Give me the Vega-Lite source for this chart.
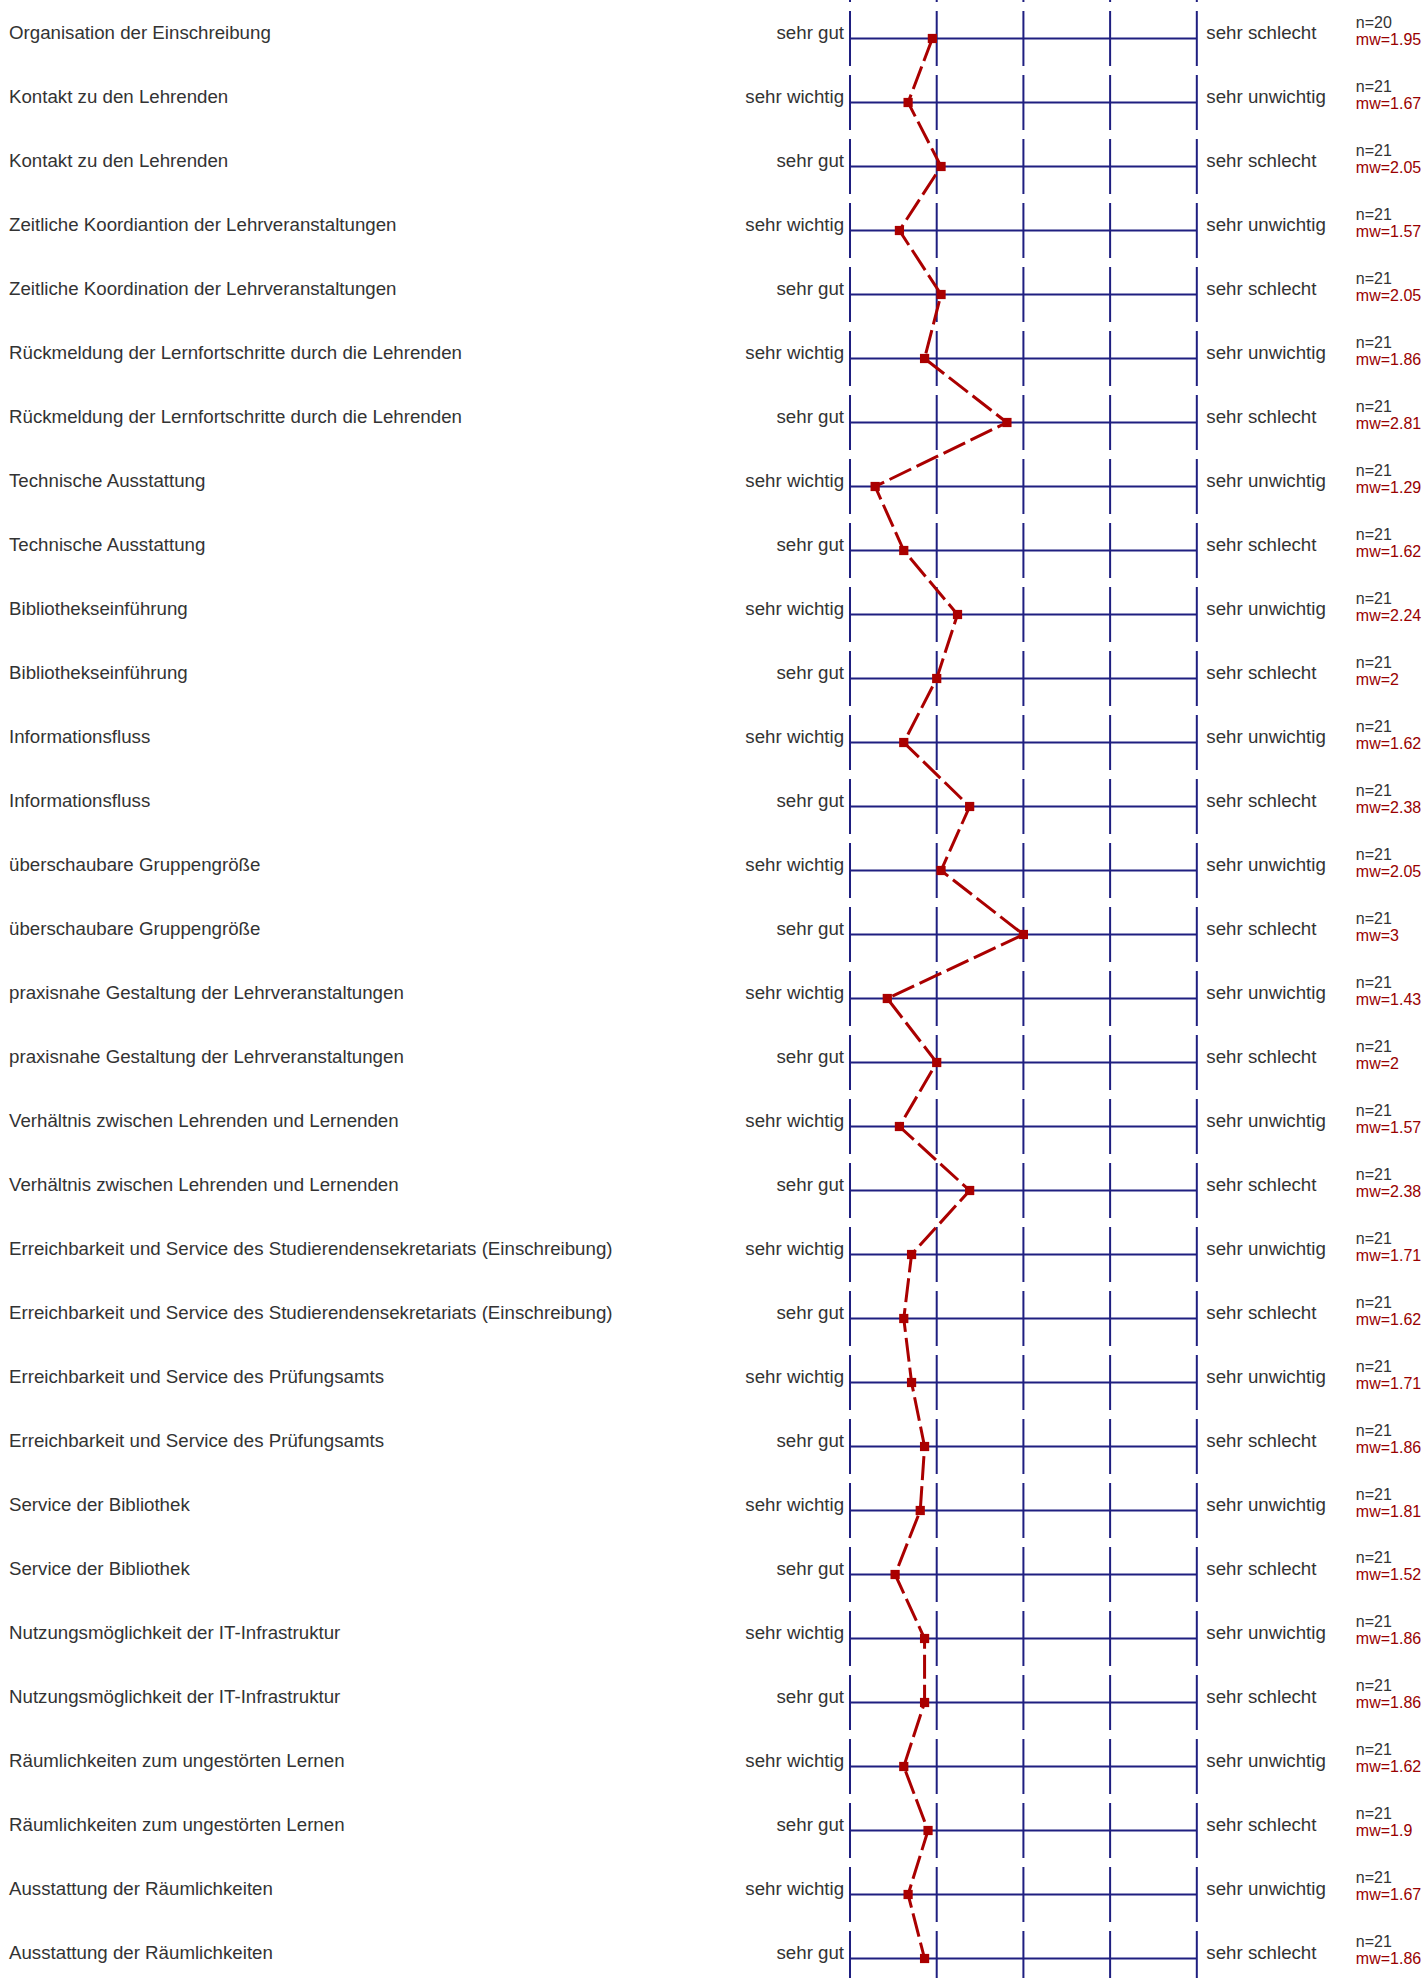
{
  "$schema": "https://vega.github.io/schema/vega-lite/v6.json",
  "width": 1427,
  "height": 1978,
  "autosize": "none",
  "padding": 0,
  "background": "white",
  "config": {"view": {"stroke": null}, "text": {"font": "Liberation Sans"}},
  "datasets": {
    "rows": [
      {"i": 0, "label": "Organisation der Einschreibung", "left": "sehr gut", "right": "sehr schlecht", "n": "n=20", "mwText": "mw=1.95", "mw": 1.95},
      {"i": 1, "label": "Kontakt zu den Lehrenden", "left": "sehr wichtig", "right": "sehr unwichtig", "n": "n=21", "mwText": "mw=1.67", "mw": 1.67},
      {"i": 2, "label": "Kontakt zu den Lehrenden", "left": "sehr gut", "right": "sehr schlecht", "n": "n=21", "mwText": "mw=2.05", "mw": 2.05},
      {"i": 3, "label": "Zeitliche Koordiantion der Lehrveranstaltungen", "left": "sehr wichtig", "right": "sehr unwichtig", "n": "n=21", "mwText": "mw=1.57", "mw": 1.57},
      {"i": 4, "label": "Zeitliche Koordination der Lehrveranstaltungen", "left": "sehr gut", "right": "sehr schlecht", "n": "n=21", "mwText": "mw=2.05", "mw": 2.05},
      {"i": 5, "label": "Rückmeldung der Lernfortschritte durch die Lehrenden", "left": "sehr wichtig", "right": "sehr unwichtig", "n": "n=21", "mwText": "mw=1.86", "mw": 1.86},
      {"i": 6, "label": "Rückmeldung der Lernfortschritte durch die Lehrenden", "left": "sehr gut", "right": "sehr schlecht", "n": "n=21", "mwText": "mw=2.81", "mw": 2.81},
      {"i": 7, "label": "Technische Ausstattung", "left": "sehr wichtig", "right": "sehr unwichtig", "n": "n=21", "mwText": "mw=1.29", "mw": 1.29},
      {"i": 8, "label": "Technische Ausstattung", "left": "sehr gut", "right": "sehr schlecht", "n": "n=21", "mwText": "mw=1.62", "mw": 1.62},
      {"i": 9, "label": "Bibliothekseinführung", "left": "sehr wichtig", "right": "sehr unwichtig", "n": "n=21", "mwText": "mw=2.24", "mw": 2.24},
      {"i": 10, "label": "Bibliothekseinführung", "left": "sehr gut", "right": "sehr schlecht", "n": "n=21", "mwText": "mw=2", "mw": 2},
      {"i": 11, "label": "Informationsfluss", "left": "sehr wichtig", "right": "sehr unwichtig", "n": "n=21", "mwText": "mw=1.62", "mw": 1.62},
      {"i": 12, "label": "Informationsfluss", "left": "sehr gut", "right": "sehr schlecht", "n": "n=21", "mwText": "mw=2.38", "mw": 2.38},
      {"i": 13, "label": "überschaubare Gruppengröße", "left": "sehr wichtig", "right": "sehr unwichtig", "n": "n=21", "mwText": "mw=2.05", "mw": 2.05},
      {"i": 14, "label": "überschaubare Gruppengröße", "left": "sehr gut", "right": "sehr schlecht", "n": "n=21", "mwText": "mw=3", "mw": 3},
      {"i": 15, "label": "praxisnahe Gestaltung der Lehrveranstaltungen", "left": "sehr wichtig", "right": "sehr unwichtig", "n": "n=21", "mwText": "mw=1.43", "mw": 1.43},
      {"i": 16, "label": "praxisnahe Gestaltung der Lehrveranstaltungen", "left": "sehr gut", "right": "sehr schlecht", "n": "n=21", "mwText": "mw=2", "mw": 2},
      {"i": 17, "label": "Verhältnis zwischen Lehrenden und Lernenden", "left": "sehr wichtig", "right": "sehr unwichtig", "n": "n=21", "mwText": "mw=1.57", "mw": 1.57},
      {"i": 18, "label": "Verhältnis zwischen Lehrenden und Lernenden", "left": "sehr gut", "right": "sehr schlecht", "n": "n=21", "mwText": "mw=2.38", "mw": 2.38},
      {"i": 19, "label": "Erreichbarkeit und Service des Studierendensekretariats (Einschreibung)", "left": "sehr wichtig", "right": "sehr unwichtig", "n": "n=21", "mwText": "mw=1.71", "mw": 1.71},
      {"i": 20, "label": "Erreichbarkeit und Service des Studierendensekretariats (Einschreibung)", "left": "sehr gut", "right": "sehr schlecht", "n": "n=21", "mwText": "mw=1.62", "mw": 1.62},
      {"i": 21, "label": "Erreichbarkeit und Service des Prüfungsamts", "left": "sehr wichtig", "right": "sehr unwichtig", "n": "n=21", "mwText": "mw=1.71", "mw": 1.71},
      {"i": 22, "label": "Erreichbarkeit und Service des Prüfungsamts", "left": "sehr gut", "right": "sehr schlecht", "n": "n=21", "mwText": "mw=1.86", "mw": 1.86},
      {"i": 23, "label": "Service der Bibliothek", "left": "sehr wichtig", "right": "sehr unwichtig", "n": "n=21", "mwText": "mw=1.81", "mw": 1.81},
      {"i": 24, "label": "Service der Bibliothek", "left": "sehr gut", "right": "sehr schlecht", "n": "n=21", "mwText": "mw=1.52", "mw": 1.52},
      {"i": 25, "label": "Nutzungsmöglichkeit der IT-Infrastruktur", "left": "sehr wichtig", "right": "sehr unwichtig", "n": "n=21", "mwText": "mw=1.86", "mw": 1.86},
      {"i": 26, "label": "Nutzungsmöglichkeit der IT-Infrastruktur", "left": "sehr gut", "right": "sehr schlecht", "n": "n=21", "mwText": "mw=1.86", "mw": 1.86},
      {"i": 27, "label": "Räumlichkeiten zum ungestörten Lernen", "left": "sehr wichtig", "right": "sehr unwichtig", "n": "n=21", "mwText": "mw=1.62", "mw": 1.62},
      {"i": 28, "label": "Räumlichkeiten zum ungestörten Lernen", "left": "sehr gut", "right": "sehr schlecht", "n": "n=21", "mwText": "mw=1.9", "mw": 1.9},
      {"i": 29, "label": "Ausstattung der Räumlichkeiten", "left": "sehr wichtig", "right": "sehr unwichtig", "n": "n=21", "mwText": "mw=1.67", "mw": 1.67},
      {"i": 30, "label": "Ausstattung der Räumlichkeiten", "left": "sehr gut", "right": "sehr schlecht", "n": "n=21", "mwText": "mw=1.86", "mw": 1.86}
    ],
    "ticks": [{"t": 1}, {"t": 2}, {"t": 3}, {"t": 4}, {"t": 5}]
  },
  "layer": [
    {
      "data": {"name": "ticks"},
      "mark": {"type": "rule", "color": "#1f1f80", "strokeWidth": 2, "strokeDash": [55, 9], "strokeDashOffset": 53},
      "encoding": {
        "x": {"field": "t", "type": "quantitative", "scale": {"domain": [-8.804, 7.655], "nice": false, "zero": false}, "axis": null}
      }
    },
    {
      "data": {"name": "rows"},
      "mark": {"type": "rule", "color": "#1f1f80", "strokeWidth": 2},
      "encoding": {
        "x": {"datum": 1, "type": "quantitative"},
        "x2": {"datum": 5},
        "y": {"field": "i", "type": "quantitative", "scale": {"domain": [-0.6016, 30.3047], "reverse": true, "nice": false, "zero": false}, "axis": null}
      }
    },
    {
      "data": {"name": "rows"},
      "mark": {"type": "line", "color": "#aa0000", "strokeWidth": 3, "strokeDash": [24, 6]},
      "encoding": {
        "x": {"field": "mw", "type": "quantitative"},
        "y": {"field": "i", "type": "quantitative"},
        "order": {"field": "i", "type": "quantitative"}
      }
    },
    {
      "data": {"name": "rows"},
      "mark": {"type": "point", "shape": "square", "filled": true, "size": 85, "color": "#aa0000", "opacity": 1},
      "encoding": {
        "x": {"field": "mw", "type": "quantitative"},
        "y": {"field": "i", "type": "quantitative"}
      }
    },
    {
      "data": {"name": "rows"},
      "mark": {"type": "text", "align": "left", "baseline": "alphabetic", "fontSize": 18.7, "color": "#333333", "dy": 0.5},
      "encoding": {
        "x": {"datum": -8.7, "type": "quantitative"},
        "y": {"field": "i", "type": "quantitative"},
        "text": {"field": "label"}
      }
    },
    {
      "data": {"name": "rows"},
      "mark": {"type": "text", "align": "right", "baseline": "alphabetic", "fontSize": 18.7, "color": "#333333", "dy": 0.5},
      "encoding": {
        "x": {"datum": 0.931, "type": "quantitative"},
        "y": {"field": "i", "type": "quantitative"},
        "text": {"field": "left"}
      }
    },
    {
      "data": {"name": "rows"},
      "mark": {"type": "text", "align": "left", "baseline": "alphabetic", "fontSize": 18.7, "color": "#333333", "dy": 0.5},
      "encoding": {
        "x": {"datum": 5.11, "type": "quantitative"},
        "y": {"field": "i", "type": "quantitative"},
        "text": {"field": "right"}
      }
    },
    {
      "data": {"name": "rows"},
      "mark": {"type": "text", "align": "left", "baseline": "alphabetic", "fontSize": 16, "color": "#333333", "dy": -11},
      "encoding": {
        "x": {"datum": 6.834, "type": "quantitative"},
        "y": {"field": "i", "type": "quantitative"},
        "text": {"field": "n"}
      }
    },
    {
      "data": {"name": "rows"},
      "mark": {"type": "text", "align": "left", "baseline": "alphabetic", "fontSize": 16, "color": "#990000", "dy": 6},
      "encoding": {
        "x": {"datum": 6.834, "type": "quantitative"},
        "y": {"field": "i", "type": "quantitative"},
        "text": {"field": "mwText"}
      }
    }
  ]
}
